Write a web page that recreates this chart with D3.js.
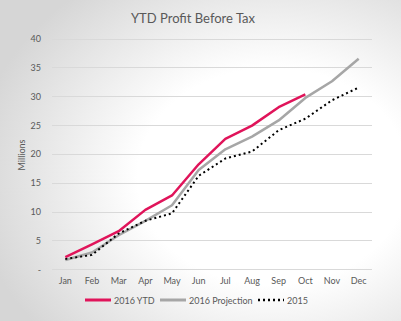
<!DOCTYPE html>
<html><head><meta charset="utf-8">
<script src="https://cdn.jsdelivr.net/npm/d3@7"></script>
<style>body{margin:0;} svg{display:block;font-family:Lato, "Open Sans", sans-serif;}</style>
</head><body>
<svg id="c" width="401" height="321"></svg>
<script>
const months = ["Jan","Feb","Mar","Apr","May","Jun","Jul","Aug","Sep","Oct","Nov","Dec"];
const ytd2016 = [2.1, 4.3, 6.6, 10.3, 12.8, 18.2, 22.6, 24.9, 28.1, 30.3];
const projection2016 = [1.6, 2.9, 5.9, 8.4, 11.1, 17.2, 20.8, 23.0, 25.8, 29.7, 32.6, 36.5];
const y2015 = [1.8, 2.5, 6.2, 8.4, 9.7, 16.2, 19.2, 20.4, 24.1, 26.1, 29.3, 31.5];
const yTicks = [0,5,10,15,20,25,30,35,40];
const seriesNames = ["2016 YTD","2016 Projection","2015"];

const svg = d3.select("#c");
const defs = svg.append("defs");
const g0 = defs.append("radialGradient").attr("id","bg").attr("cx","0.68").attr("cy","0.55").attr("r","0.75");
g0.append("stop").attr("offset","0.45").attr("stop-color","#ffffff");
g0.append("stop").attr("offset","1").attr("stop-color","#d6d6d6");
svg.append("rect").attr("width",401).attr("height",321).attr("fill","url(#bg)");

const x = d3.scaleBand().domain(months).range([52,372]);
const y = d3.scaleLinear().domain([0,40]).range([269.3,38.5]);

svg.append("g").selectAll("line").data(yTicks).join("line")
  .attr("x1",52).attr("x2",372).attr("y1",d=>Math.round(y(d))+0.5).attr("y2",d=>Math.round(y(d))+0.5)
  .attr("stroke","#d9d9d9").attr("stroke-width",1);

svg.append("g").selectAll("text").data(yTicks).join("text")
  .attr("x",41).attr("y",d=>y(d)+3.5).attr("text-anchor","end")
  .attr("font-size",9).attr("fill","#595959").text(d=>d===0?"-":d);

svg.append("g").selectAll("text").data(months).join("text")
  .attr("x",d=>x(d)+x.bandwidth()/2).attr("y",284).attr("text-anchor","middle")
  .attr("font-size",9).attr("fill","#595959").text(d=>d);

svg.append("text").attr("transform","translate(25,155) rotate(-90)").attr("text-anchor","middle")
  .attr("font-size",9).attr("fill","#595959").text("Millions");

svg.append("text").attr("x",193).attr("y",23).attr("text-anchor","middle")
  .attr("font-size",13).attr("fill","#595959").text("YTD Profit Before Tax");

const line = d3.line().x((d,i)=>x(months[i])+x.bandwidth()/2).y(d=>y(d));
const styles = [
  {data:ytd2016, stroke:"#e0145a", w:2.5, dash:null},
  {data:projection2016, stroke:"#a6a6a6", w:2.5, dash:null},
  {data:y2015, stroke:"#000000", w:2, dash:"2,3"}
];
svg.append("g").selectAll("path").data([styles[1],styles[2],styles[0]]).join("path")
  .attr("d",d=>line(d.data)).attr("fill","none").attr("stroke",d=>d.stroke)
  .attr("stroke-width",d=>d.w).attr("stroke-dasharray",d=>d.dash).attr("stroke-linejoin","round");

const lx = [85,160,258];
const leg = svg.append("g").selectAll("g").data(styles).join("g")
  .attr("transform",(d,i)=>`translate(${lx[i]},300)`);
leg.append("line").attr("x1",0).attr("x2",26).attr("stroke",d=>d.stroke).attr("stroke-width",d=>d.w+0.5).attr("stroke-dasharray",d=>d.dash);
leg.append("text").attr("x",29).attr("y",3.5).attr("font-size",9).attr("fill","#595959").text((d,i)=>seriesNames[i]);
</script>
</body></html>
